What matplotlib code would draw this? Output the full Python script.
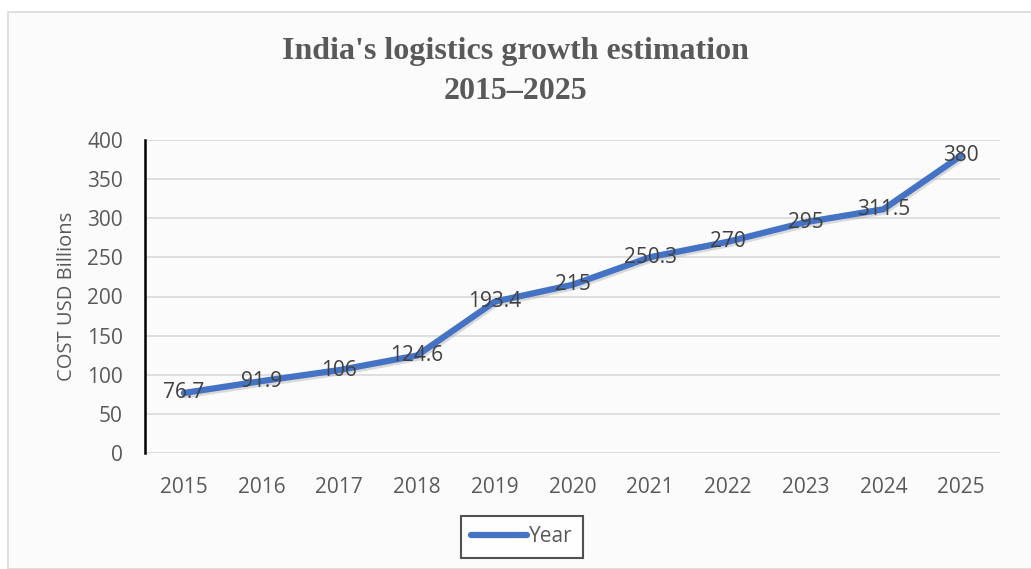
import matplotlib.pyplot as plt
import matplotlib.transforms as mtransforms
from matplotlib.patches import Rectangle

years = ['2015', '2016', '2017', '2018', '2019', '2020', '2021', '2022', '2023', '2024', '2025']
cost = [76.7, 91.9, 106, 124.6, 193.4, 215, 250.3, 270, 295, 311.5, 380]
labels = ['76.7', '91.9', '106', '124.6', '193.4', '215', '250.3', '270', '295', '311.5', '380']

fig = plt.figure(figsize=(10.31, 5.69), dpi=100)
fig.patch.set_facecolor('white')
fig.patches.append(Rectangle((8 / 1031, 0), 1.0, 1 - 12 / 569, transform=fig.transFigure,
                             facecolor='#fbfbfb', edgecolor='#d9d9d9', lw=1.2, zorder=-5))

ax = fig.add_axes([145 / 1031, 1 - 453 / 569, (1000 - 145) / 1031, (453 - 140) / 569])
ax.set_facecolor('none')
ax.set_zorder(2)

x = list(range(len(years)))
shadow = ax.transData + mtransforms.ScaledTranslation(1 / 100, -2 / 100, fig.dpi_scale_trans)
ax.plot(x, cost, color='#9a9a9a', lw=5, alpha=0.35, solid_capstyle='round', transform=shadow)
ax.plot(x, cost, color='#4472C4', lw=4.5, solid_capstyle='round', solid_joinstyle='round', label='Year')

for xi, v, t in zip(x, cost, labels):
    ax.text(xi, v, t, ha='center', va='center', fontsize=15, color='#404040', family='Open Sans')

ax.set_xlim(-0.5, 10.5)
ax.set_ylim(0, 400)
ax.set_yticks(range(0, 401, 50))
ax.set_xticks(x)
ax.set_xticklabels(years)
ax.grid(axis='y', color='#d9d9d9', lw=1.2)
ax.set_axisbelow(True)
for s in ['top', 'right', 'bottom']:
    ax.spines[s].set_visible(False)
ax.spines['left'].set_color('black')
ax.spines['left'].set_linewidth(1.8)
ax.tick_params(length=0, labelsize=15, labelcolor='#595959')
ax.tick_params(axis='y', pad=16)
ax.tick_params(axis='x', pad=17)
for lab in ax.get_xticklabels() + ax.get_yticklabels():
    lab.set_family('Open Sans')
ax.set_ylabel('COST USD Billions', fontsize=14.5, color='#595959', family='Open Sans', labelpad=7)

fig.text(0.5, 1 - 52 / 569, "India's logistics growth estimation", ha='center', va='center',
         fontsize=23, fontweight='bold', color='#595959', family='Liberation Serif')
fig.text(0.5, 1 - 92 / 569, "2015\u20132025", ha='center', va='center',
         fontsize=23, fontweight='bold', color='#595959', family='Liberation Serif')

leg = ax.legend(loc='center', bbox_to_anchor=(522 / 1031, 1 - 537 / 569), bbox_transform=fig.transFigure,
                frameon=True, fancybox=False, prop={'family': 'Open Sans', 'size': 15},
                handlelength=2.7, handletextpad=0.1, borderpad=0.5, borderaxespad=0)
leg.get_frame().set_edgecolor('#262626')
leg.get_frame().set_linewidth(1.5)
for t in leg.get_texts():
    t.set_color('#595959')

fig.savefig('out.png', dpi=100)
